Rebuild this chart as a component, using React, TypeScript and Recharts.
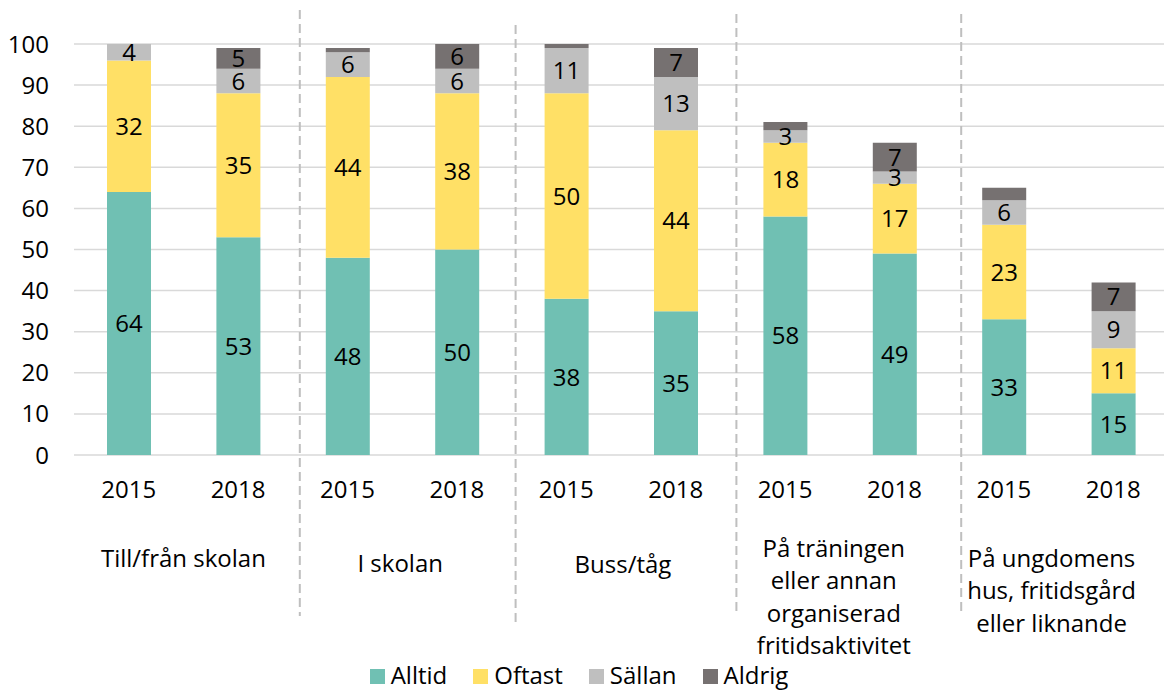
import React from "react";
import { Bar, BarChart, CartesianGrid, LabelList, Legend, XAxis, YAxis } from "recharts";

// survey years, repeated for every place
const years = ["2015", "2018"];

// place categories, split into the lines they are printed on
const places = [
  ["Till/från skolan"],
  ["I skolan"],
  ["Buss/tåg"],
  ["På träningen", "eller annan", "organiserad", "fritidsaktivitet"],
  ["På ungdomens", "hus, fritidsgård", "eller liknande"],
];

const seriesNames = ["Alltid", "Oftast", "Sällan", "Aldrig"];

// share of answers (%), one value per bar: place by place, 2015 then 2018
const alltid = [64, 53, 48, 50, 38, 35, 58, 49, 33, 15];
const oftast = [32, 35, 44, 38, 50, 44, 18, 17, 23, 11];
const sallan = [4, 6, 6, 6, 11, 13, 3, 3, 6, 9];
const aldrig = [0, 5, 1, 6, 1, 7, 2, 7, 3, 7];

const yTicks = [0, 10, 20, 30, 40, 50, 60, 70, 80, 90, 100];

const rows = alltid.map((v, i) => ({
  year: years[i % 2],
  place: Math.floor(i / 2),
  alltid: v,
  oftast: oftast[i],
  sallan: sallan[i],
  aldrig: aldrig[i],
}));

const FONT = "'Open Sans', 'Noto Sans', sans-serif";
const CHART_W = 1170;
const CHART_H = 690;
const MARGIN = { top: 44, right: 2, left: 0, bottom: 0 };
const Y_AXIS_W = 74;
const BAND = (CHART_W - MARGIN.left - MARGIN.right - Y_AXIS_W) / rows.length;

// hand placement of the group captions and dashed dividers (as in the original)
const captionBaseline = [567, 572, 573, 557, 567];
const captionDx = [0, -2, 2, -6, -7];
const dividerDx = [7, 4, 6, 12];
const dividerTop = [10, 25, 14, 14];
const dividerBottom = [616, 627, 616, 616];

const makeLabel = (min: number) => (props: any) => {
  const { x, y, width, height, value } = props;
  if (value == null || Number(value) < min) return null;
  return (
    <text
      x={Number(x) + Number(width) / 2}
      y={Number(y) + Number(height) / 2}
      dy="0.36em"
      textAnchor="middle"
      fontSize={24}
      fontFamily={FONT}
      fill="#000"
    >
      {value}
    </text>
  );
};

const YearTick = (props: any) => {
  const { x, y, index, payload } = props;
  const row = rows[index];
  const isLast = index % 2 === 1;
  const g = row ? row.place : 0;
  const axisY = Number(y);
  return (
    <g>
      <text x={x} y={axisY + 43} textAnchor="middle" fontSize={24} fontFamily={FONT} fill="#000">
        {payload.value}
      </text>
      {isLast &&
        places[g].map((line, li) => (
          <text
            key={li}
            x={x - BAND / 2 + captionDx[g]}
            y={captionBaseline[g] + li * 32.3}
            textAnchor="middle"
            fontSize={24}
            fontFamily={FONT}
            fill="#000"
          >
            {line}
          </text>
        ))}
      {isLast && g < places.length - 1 && (
        <line
          x1={x + BAND / 2 + dividerDx[g]}
          x2={x + BAND / 2 + dividerDx[g]}
          y1={dividerTop[g]}
          y2={dividerBottom[g]}
          stroke="#bfbfbf"
          strokeWidth={2}
          strokeDasharray="9 5"
        />
      )}
    </g>
  );
};

const renderLegend = (props: any) => {
  const items = [...(props.payload || [])].sort(
    (a: any, b: any) => seriesNames.indexOf(a.value) - seriesNames.indexOf(b.value)
  );
  return (
    <div style={{ textAlign: "center", fontFamily: FONT, fontSize: 24, lineHeight: "30px", color: "#000", whiteSpace: "nowrap" }}>
      {items.map((entry: any) => (
        <span key={entry.value} style={{ margin: "0 13px" }}>
          <span
            style={{
              display: "inline-block",
              width: 15,
              height: 15,
              background: entry.color,
              marginRight: 6,
              verticalAlign: "baseline",
            }}
          />
          {entry.value}
        </span>
      ))}
    </div>
  );
};

export default function App() {
  return (
    <div
      style={{
        position: "absolute",
        left: 0,
        top: 0,
        width: 1164,
        height: CHART_H,
        overflow: "hidden",
        background: "#fff",
      }}
    >
      <BarChart width={CHART_W} height={CHART_H} data={rows} margin={MARGIN} style={{ fontFamily: FONT }}>
        <CartesianGrid vertical={false} stroke="#d9d9d9" strokeWidth={1.5} />
        <XAxis
          dataKey="year"
          interval={0}
          tickLine={false}
          axisLine={false}
          tickSize={0}
          tickMargin={0}
          height={205}
          tick={<YearTick />}
        />
        <YAxis
          domain={[0, 100]}
          ticks={yTicks}
          width={Y_AXIS_W}
          tickLine={false}
          axisLine={false}
          tickSize={6}
          tickMargin={19}
          tick={{ fontSize: 24, fill: "#000", fontFamily: FONT }}
        />
        <Legend
          verticalAlign="bottom"
          height={30}
          content={renderLegend}
          wrapperStyle={{ left: 0, width: 1158, bottom: 0 }}
        />
        <Bar dataKey="alltid" name={seriesNames[0]} stackId="a" fill="#70c0b3" barSize={44} isAnimationActive={false}>
          <LabelList dataKey="alltid" content={makeLabel(1)} />
        </Bar>
        <Bar dataKey="oftast" name={seriesNames[1]} stackId="a" fill="#ffe066" barSize={44} isAnimationActive={false}>
          <LabelList dataKey="oftast" content={makeLabel(1)} />
        </Bar>
        <Bar dataKey="sallan" name={seriesNames[2]} stackId="a" fill="#bfbfbf" barSize={44} isAnimationActive={false}>
          <LabelList dataKey="sallan" content={makeLabel(3)} />
        </Bar>
        <Bar dataKey="aldrig" name={seriesNames[3]} stackId="a" fill="#767171" barSize={44} isAnimationActive={false}>
          <LabelList dataKey="aldrig" content={makeLabel(4)} />
        </Bar>
      </BarChart>
    </div>
  );
}
